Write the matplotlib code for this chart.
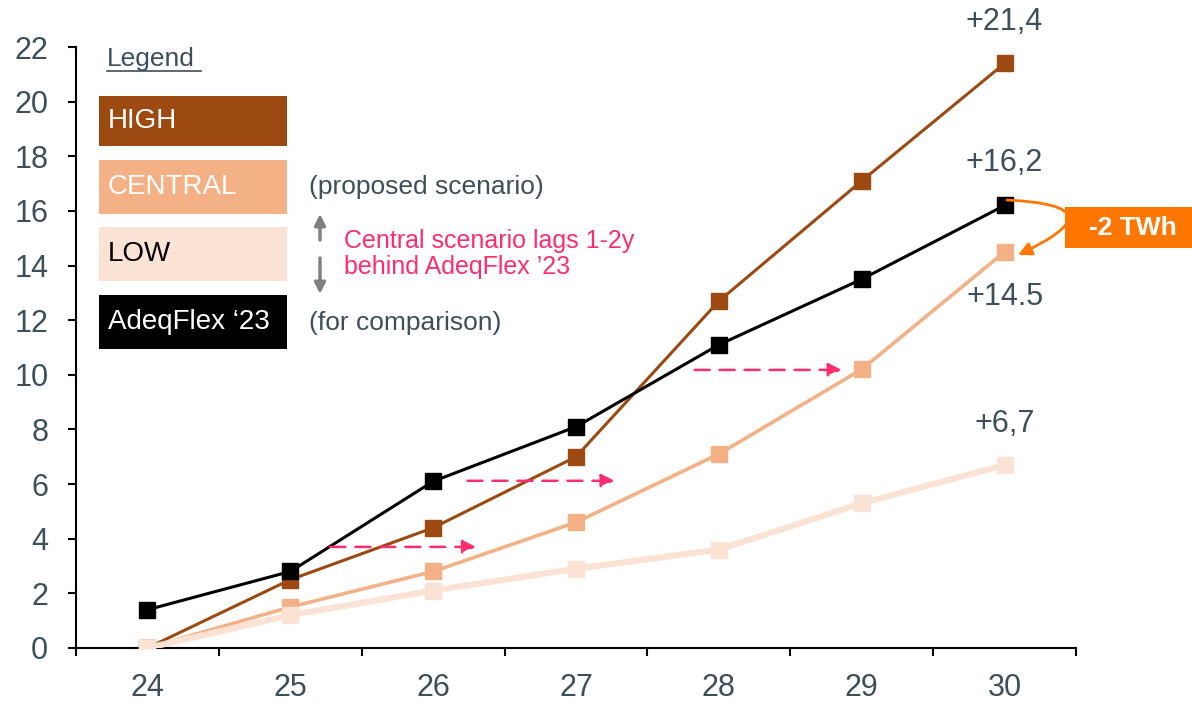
import matplotlib.pyplot as plt
from matplotlib.patches import FancyArrowPatch, Rectangle

plt.rcParams['font.family'] = ['Liberation Sans', 'DejaVu Sans']

years = ['24', '25', '26', '27', '28', '29', '30']
high = [0, 2.5, 4.4, 7.0, 12.7, 17.1, 21.4]
central = [0, 1.5, 2.8, 4.6, 7.1, 10.2, 14.5]
low = [0, 1.2, 2.1, 2.9, 3.6, 5.3, 6.7]
adeqflex = [1.4, 2.8, 6.1, 8.1, 11.1, 13.5, 16.2]
end_labels = ['+21,4', '+14.5', '+6,7', '+16,2']

C_HIGH = '#9c4a12'
C_CENTRAL = '#f3b185'
C_LOW = '#fae3d5'
C_TXT = '#3d4f5a'
C_PINK = '#ff2d6f'
C_ORANGE = '#ff7700'

fig = plt.figure(figsize=(11.92, 7.05), dpi=100)
ax = fig.add_axes([0.0638, 0.0809, 0.8389, 0.8524])
x = range(len(years))

ax.plot(x, high, color=C_HIGH, lw=2.2, marker='s', ms=11, zorder=3)
ax.plot(x, central, color=C_CENTRAL, lw=2.6, marker='s', ms=11, zorder=4)
ax.plot(x, low, color=C_LOW, lw=4.5, marker='s', ms=11, zorder=5)
ax.plot(x, adeqflex, color='black', lw=2.2, marker='s', ms=11, zorder=6)

ax.set_xlim(-0.5, 6.5)
ax.set_ylim(0, 22)
ax.set_yticks(range(0, 23, 2))
ax.set_xticks([i + 0.5 for i in range(-1, 7)], minor=False)
ax.set_xticklabels([])
ax.set_xticks(list(x), minor=True)
ax.set_xticklabels(years, minor=True)
ax.tick_params(axis='x', which='minor', length=0, pad=18, labelsize=22, labelcolor=C_TXT)
ax.tick_params(axis='x', which='major', length=6, width=1.5)
ax.tick_params(axis='y', length=6, width=1.5, pad=14, labelsize=22, labelcolor=C_TXT)
for s in ['top', 'right']:
    ax.spines[s].set_visible(False)
for s in ['left', 'bottom']:
    ax.spines[s].set_linewidth(1.5)

# end value labels
ax.text(6, 22.9, end_labels[0], ha='center', va='center', fontsize=22, color=C_TXT, clip_on=False)
ax.text(6, 17.75, end_labels[3], ha='center', va='center', fontsize=22, color=C_TXT)
ax.text(6, 12.85, end_labels[1], ha='center', va='center', fontsize=22, color=C_TXT)
ax.text(6, 8.2, end_labels[2], ha='center', va='center', fontsize=22, color=C_TXT)

# pink lag arrows
for x0, x1, y in [(1.28, 2.3, 3.7), (2.24, 3.27, 6.12), (3.83, 4.86, 10.18)]:
    ax.annotate('', xy=(x1, y), xytext=(x0, y),
                arrowprops=dict(arrowstyle='-|>', color=C_PINK, lw=1.8,
                                linestyle=(0, (6, 4)), mutation_scale=20, shrinkA=0, shrinkB=0),
                zorder=7)

# legend block (figure pixel coords)
def px(xp, yp):
    return xp / 1192, 1 - yp / 705

boxes = [('HIGH', C_HIGH, 'white', 96, 146),
         ('CENTRAL', C_CENTRAL, 'white', 160, 214),
         ('LOW', C_LOW, 'black', 227, 281),
         ('AdeqFlex \u201823', 'black', 'white', 295, 349)]
for label, fc, tc, y0, y1 in boxes:
    bx, by = px(99, y1)
    fig.patches.append(Rectangle((bx, by), 188 / 1192, (y1 - y0) / 705, transform=fig.transFigure,
                                 facecolor=fc, edgecolor='none', zorder=1))
    tx, ty = px(108, (y0 + y1) / 2)
    fig.text(tx, ty, label, ha='left', va='center', fontsize=20, color=tc)

lx, ly = px(107, 59)
fig.text(lx, ly, 'Legend', ha='left', va='center', fontsize=19, color=C_TXT)
ux0, uy = px(107, 71)
ux1, _ = px(201, 71)
fig.add_artist(plt.Line2D([ux0, ux1], [uy, uy], transform=fig.transFigure, color=C_TXT, lw=1.2))

tx, ty = px(309, 187)
fig.text(tx, ty, '(proposed scenario)', ha='left', va='center', fontsize=19, color=C_TXT)
tx, ty = px(309, 323)
fig.text(tx, ty, '(for comparison)', ha='left', va='center', fontsize=19, color=C_TXT)
tx, ty = px(344, 254)
fig.text(tx, ty, 'Central scenario lags 1-2y\nbehind AdeqFlex \u201923', ha='left', va='center',
         fontsize=18, color=C_PINK, linespacing=1.15)

for ys, ye in [(240, 214), (258, 294)]:
    fig.add_artist(FancyArrowPatch(px(320, ys), px(320, ye), transform=fig.transFigure,
                                   arrowstyle='-|>', mutation_scale=16, color='#808080', lw=2.5,
                                   shrinkA=0, shrinkB=0))

# -2 TWh callout
bx, by = px(1065, 248)
fig.patches.append(Rectangle((bx, by), 127 / 1192, 41 / 705, transform=fig.transFigure,
                             facecolor=C_ORANGE, edgecolor='none'))
tx, ty = px(1133, 228)
fig.text(tx, ty, '-2 TWh', ha='center', va='center', fontsize=19, color='white', fontweight='bold')
fig.add_artist(FancyArrowPatch(px(1007, 200), px(1018, 255), transform=fig.transFigure,
                               connectionstyle='arc3,rad=-2.0', arrowstyle='-|>',
                               mutation_scale=20, color=C_ORANGE, lw=2, shrinkA=0, shrinkB=0,
                               zorder=8))

fig.savefig('out.png', dpi=100)
